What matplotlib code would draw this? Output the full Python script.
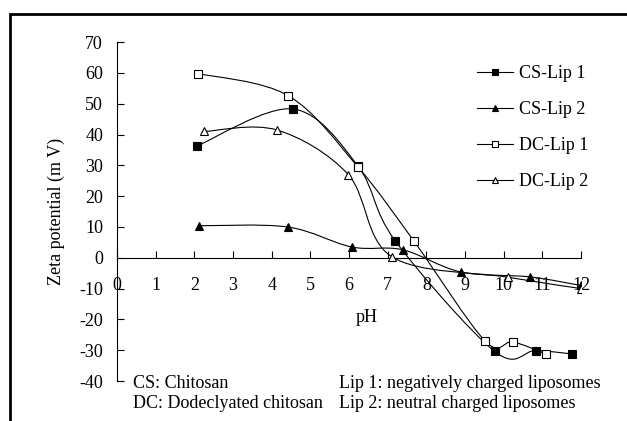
import numpy as np
import matplotlib.pyplot as plt
from matplotlib.path import Path
from matplotlib.patches import PathPatch, Rectangle
from matplotlib.lines import Line2D

plt.rcParams['font.family'] = ['Liberation Serif', 'DejaVu Serif']
plt.rcParams['font.size'] = 13
plt.rcParams['axes.unicode_minus'] = False

# zeta potential vs pH
cs_lip1_x = [2.07, 4.55, 6.23, 7.19, 9.77, 10.83, 11.76]
cs_lip1_y = [36.3, 48.3, 29.8, 5.6, -30.4, -30.1, -31.2]
cs_lip2_x = [2.12, 4.41, 6.07, 7.39, 8.89, 10.67, 12.0]
cs_lip2_y = [10.4, 10.0, 3.5, 2.6, -4.6, -6.2, -9.0]
dc_lip1_x = [2.10, 4.43, 6.23, 7.68, 9.52, 10.24, 11.09]
dc_lip1_y = [59.8, 52.6, 29.5, 5.4, -27.0, -27.3, -31.2]
dc_lip2_x = [2.26, 4.13, 5.98, 7.10, 10.10, 12.0]
dc_lip2_y = [41.0, 41.5, 27.0, 0.4, -6.3, -10.0]

labels = ['CS-Lip 1', 'CS-Lip 2', 'DC-Lip 1', 'DC-Lip 2']
markers = ['s', '^', 's', '^']
faces = ['black', 'black', 'white', 'white']
xticks = list(range(0, 13))
yticks = list(range(-40, 71, 10))


def smooth_path(x, y):
    # excel-style smoothed line: cubic bezier through every point
    p = np.column_stack([x, y])
    ext = np.vstack([p[0], p, p[-1]])
    verts = [p[0]]
    codes = [Path.MOVETO]
    for i in range(len(p) - 1):
        p0, p1, p2, p3 = ext[i], ext[i + 1], ext[i + 2], ext[i + 3]
        c1 = p1 + (p2 - p0) / 6
        c2 = p2 - (p3 - p1) / 6
        verts += [c1, c2, p2]
        codes += [Path.CURVE4] * 3
    return Path(verts, codes)


fig = plt.figure(figsize=(6.27, 4.21), dpi=100)
ax = fig.add_axes([0.1866, 0.095, 0.74, 0.805])

series = [(cs_lip1_x, cs_lip1_y), (cs_lip2_x, cs_lip2_y),
          (dc_lip1_x, dc_lip1_y), (dc_lip2_x, dc_lip2_y)]
handles = []
for (x, y), lab, m, fc in zip(series, labels, markers, faces):
    ax.add_patch(PathPatch(smooth_path(x, y), facecolor='none',
                           edgecolor='black', lw=0.8, zorder=2))
    ax.plot(x, y, ls='none', marker=m, ms=5.8, mfc=fc, mec='black',
            mew=0.8, zorder=3)
    handles.append(Line2D([], [], color='black', lw=0.8, marker=m, ms=5,
                          mfc=fc, mec='black', mew=0.8, label=lab))

ax.set_xlim(0, 12)
ax.set_ylim(-40, 70)
ax.set_xticks(xticks)
ax.set_yticks(yticks)
ax.spines['top'].set_visible(False)
ax.spines['right'].set_visible(False)
ax.spines['bottom'].set_position(('data', 0))
ax.spines['left'].set_linewidth(0.8)
ax.spines['bottom'].set_linewidth(0.8)
ax.tick_params(axis='x', direction='in', length=5, width=0.8, pad=14)
ax.tick_params(axis='y', direction='in', length=5, width=0.8, pad=10)

ax.set_ylabel('Zeta potential (m V)', labelpad=10)
ax.text(6.45, -19.5, 'pH', ha='center', va='center')

ax.legend(handles=handles, loc='upper left', bbox_to_anchor=(0.757, 0.958),
          frameon=False, borderpad=0, labelspacing=1.05, handlelength=2.0,
          handletextpad=0.3)

fig.text(133 / 627, 1 - 383 / 421, 'CS: Chitosan', va='center')
fig.text(133 / 627, 1 - 404 / 421, 'DC: Dodeclyated chitosan', va='center')
fig.text(339 / 627, 1 - 383 / 421, 'Lip 1: negatively charged liposomes', va='center')
fig.text(339 / 627, 1 - 404 / 421, 'Lip 2: neutral charged liposomes', va='center')

# outer border, running off the right and bottom edges
fig.patches.append(Rectangle((10 / 627, -0.2), 1.2, 1.2 + (421 - 14) / 421 - 1,
                             transform=fig.transFigure, fill=False,
                             edgecolor='black', lw=2))

fig.savefig('out.png', dpi=100)
